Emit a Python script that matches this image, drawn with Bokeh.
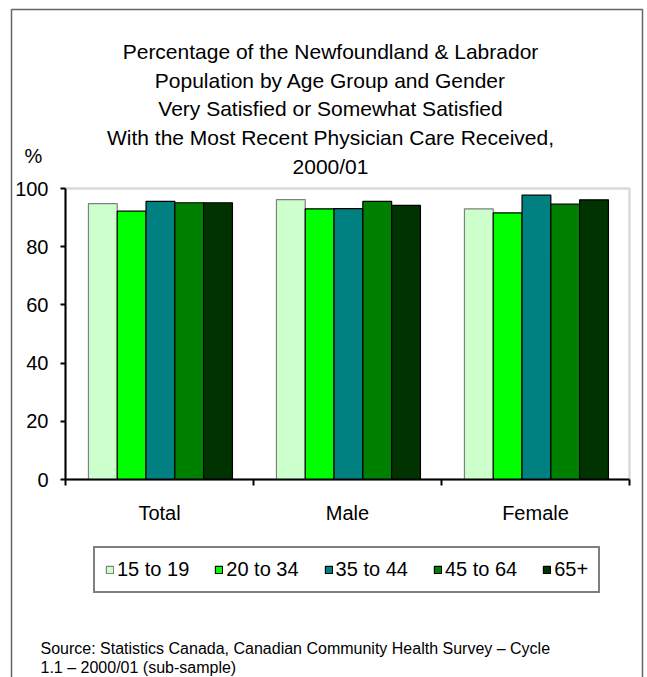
from bokeh.plotting import figure
from bokeh.models import (Range1d, FixedTicker, Label, Legend, LegendItem,
                          BoxAnnotation, LinearAxis)
from bokeh.embed import file_html
from bokeh.resources import INLINE

# ---- data ----
groups = ["Total", "Male", "Female"]
age_groups = ["15 to 19", "20 to 34", "35 to 44", "45 to 64", "65+"]
pct_15_19 = [94.8, 96.2, 93.0]
pct_20_34 = [92.2, 93.0, 91.6]
pct_35_44 = [95.6, 93.1, 97.7]
pct_45_64 = [95.1, 95.6, 94.6]
pct_65_plus = [95.1, 94.2, 96.1]
y_ticks = [0, 20, 40, 60, 80, 100]
title_lines = [
    "Percentage of the Newfoundland & Labrador",
    "Population by Age Group and Gender",
    "Very Satisfied or Somewhat Satisfied",
    "With the Most Recent Physician Care Received,",
    "2000/01",
]
source_lines = [
    "Source: Statistics Canada, Canadian Community Health Survey \u2013 Cycle",
    "1.1 \u2013 2000/01 (sub-sample)",
]

series = [pct_15_19, pct_20_34, pct_35_44, pct_45_64, pct_65_plus]
colors = ["#CCFFCC", "#00FF00", "#008080", "#008000", "#003300"]
edges = ["#808080", "#000000", "#000000", "#000000", "#000000"]
FONT = "Liberation Sans"

# ---- layout geometry (pixels) ----
W, H = 647, 677
PL, PR, PT, PB = 65, 629, 188, 479      # plot-area box in page pixels
n = len(groups)
xpp = n / (PR - PL)
ypp = 100 / (PB - PT)
x_range = Range1d(-PL * xpp, n + (W - PR) * xpp)
y_range = Range1d(-(H - PB) * ypp, 100 + PT * ypp)

p = figure(width=W, height=H, x_range=x_range, y_range=y_range,
           x_axis_location=None, y_axis_location=None,
           output_backend="svg", toolbar_location=None,
           min_border=0)
p.min_border_left = p.min_border_right = p.min_border_top = p.min_border_bottom = 0
p.background_fill_color = "white"
p.border_fill_color = "white"
p.outline_line_color = None
p.grid.visible = False

# plot-area border (grey)
p.add_layout(BoxAnnotation(left=0, right=n, bottom=0, top=100, fill_color=None,
                           fill_alpha=0, line_color="#808080", line_width=2.5,
                           level="underlay"))

bar_w = 0.1532
renderers = []
for j, (vals, c, e) in enumerate(zip(series, colors, edges)):
    xs = [i + 0.505 + (j - 2) * bar_w for i in range(n)]
    r = p.vbar(x=xs, top=vals, width=bar_w, bottom=0,
               fill_color=c, line_color=e, line_width=1.2)
    renderers.append(r)

# axes fixed at the data origin
xaxis = LinearAxis(fixed_location=0, bounds=(0, n),
                   ticker=FixedTicker(ticks=[i + 0.5 for i in range(n)],
                                      minor_ticks=list(range(n + 1))))
xaxis.major_label_overrides = {i + 0.5: g for i, g in enumerate(groups)}
xaxis.major_tick_out = 0
xaxis.major_tick_in = 0
xaxis.minor_tick_out = 6
xaxis.minor_tick_in = 0
xaxis.minor_tick_line_width = 2
xaxis.minor_tick_line_color = "black"
xaxis.major_label_standoff = 16

yaxis = LinearAxis(fixed_location=0, bounds=(0, 100), ticker=FixedTicker(ticks=y_ticks))
yaxis.major_tick_out = 5
yaxis.major_tick_in = 0
yaxis.major_tick_line_width = 2
yaxis.minor_tick_line_color = None
yaxis.major_label_standoff = 12
for ax in (xaxis, yaxis):
    ax.axis_line_width = 2
    ax.axis_line_color = "black"
    ax.major_tick_line_color = "black"
    ax.major_label_text_font = FONT
    ax.major_label_text_font_size = "20px"
    ax.major_label_text_color = "black"
p.add_layout(xaxis, "below")
p.add_layout(yaxis, "left")

# title lines (screen units: from bottom-left of canvas)
title_y = [51, 80, 108, 137, 166]
for line, ty in zip(title_lines, title_y):
    p.add_layout(Label(x=330, y=H - ty, x_units="screen", y_units="screen", text=line,
                       text_font=FONT, text_font_size="21px", text_color="black",
                       text_align="center", text_baseline="middle"))
p.add_layout(Label(x=33, y=H - 155, x_units="screen", y_units="screen", text="%",
                   text_font=FONT, text_font_size="20px", text_color="black",
                   text_align="center", text_baseline="middle"))
src_y = [648, 667]
for line, sy in zip(source_lines, src_y):
    p.add_layout(Label(x=40, y=H - sy, x_units="screen", y_units="screen", text=line,
                       text_font=FONT, text_font_size="16px", text_color="black",
                       text_align="left", text_baseline="middle"))

# outer frame
p.add_layout(BoxAnnotation(left=11, right=642, top=H - 9, bottom=-20,
                           left_units="screen", right_units="screen",
                           top_units="screen", bottom_units="screen",
                           fill_color=None, fill_alpha=0, line_color="#666666",
                           line_width=1.5, line_alpha=1))

legend = Legend(items=[LegendItem(label=a, renderers=[r]) for a, r in zip(age_groups, renderers)],
                orientation="horizontal", location=(93, H - 593),
                glyph_width=9, glyph_height=9, label_standoff=3, spacing=25,
                padding=10, margin=0,
                label_text_font=FONT, label_text_font_size="20px", label_text_color="black",
                border_line_color="black", border_line_width=2,
                background_fill_color="white", background_fill_alpha=1)
p.add_layout(legend, "center")

open("out.html", "w").write(file_html(p, INLINE))
